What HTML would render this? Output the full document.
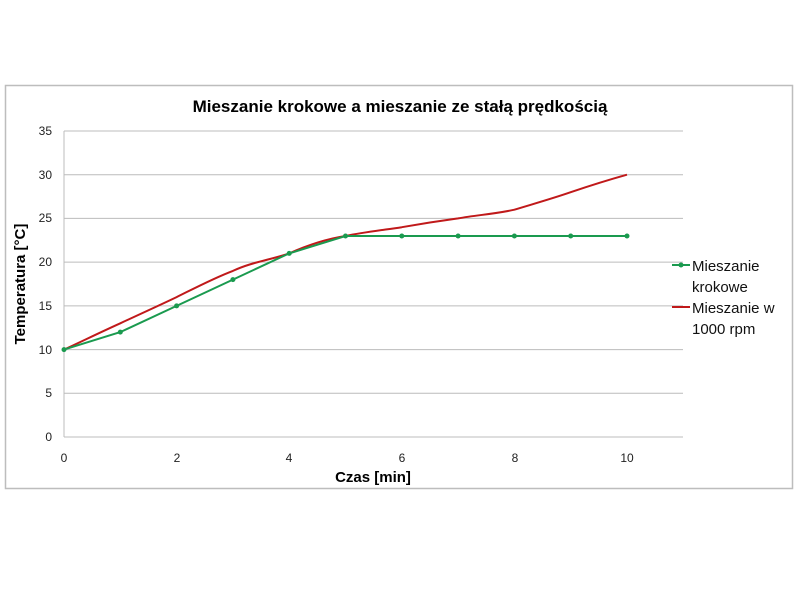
<!DOCTYPE html>
<html><head><meta charset="utf-8"><style>
body{margin:0;background:#fff;}
svg{display:block;font-family:"Liberation Sans",sans-serif;}
</style></head><body>
<svg width="800" height="600" viewBox="0 0 800 600">
<rect x="5.5" y="85.5" width="787" height="403" fill="#fff" stroke="#bdbdbd" stroke-width="1.5"/>
<text x="400" y="112" text-anchor="middle" font-size="17" font-weight="bold">Mieszanie krokowe a mieszanie ze stałą prędkością</text>
<g stroke="#bcbcbc" stroke-width="1">
<line x1="64" y1="131" x2="683" y2="131"/>
<line x1="64" y1="174.7" x2="683" y2="174.7"/>
<line x1="64" y1="218.4" x2="683" y2="218.4"/>
<line x1="64" y1="262.1" x2="683" y2="262.1"/>
<line x1="64" y1="305.9" x2="683" y2="305.9"/>
<line x1="64" y1="349.6" x2="683" y2="349.6"/>
<line x1="64" y1="393.3" x2="683" y2="393.3"/>
<line x1="64" y1="437" x2="683" y2="437"/>
<line x1="64" y1="131" x2="64" y2="437"/>
</g>
<g font-size="12" text-anchor="end" fill="#222">
<text x="52" y="135">35</text><text x="52" y="179">30</text><text x="52" y="222">25</text>
<text x="52" y="266">20</text><text x="52" y="310">15</text><text x="52" y="354">10</text>
<text x="52" y="397">5</text><text x="52" y="441">0</text>
</g>
<g font-size="12" text-anchor="middle" fill="#222">
<text x="64" y="462">0</text><text x="177" y="462">2</text><text x="289" y="462">4</text>
<text x="402" y="462">6</text><text x="515" y="462">8</text><text x="627" y="462">10</text>
</g>
<text x="373" y="482" text-anchor="middle" font-size="15" font-weight="bold">Czas [min]</text>
<text transform="translate(25,284) rotate(-90)" text-anchor="middle" font-size="15" font-weight="bold">Temperatura [°C]</text>
<path d="M64,349.6 C83,340.8 101,332 120.3,323.3 C139,314.5 158,306 176.6,297.1 C195,288 214,278 232.9,270.9 C252,262 270,260 289.2,253.4 C308,245 326,239 345.5,236 C364,232 383,230 401.8,227.2 C420,224 439,221 458.1,218.4 C477,215 495,214 514.4,209.7 C533,204 551,199 570.7,192.2 C589,186 608,180 627,174.7" fill="none" stroke="#c0191a" stroke-width="2"/>
<polyline points="64,349.6 120.3,332.1 176.6,305.9 232.9,279.6 289.2,253.4 345.5,236 401.8,236 458.1,236 514.4,236 570.7,236 627,236" fill="none" stroke="#1a9a4f" stroke-width="2"/>
<g fill="#1a9a4f">
<circle cx="64" cy="349.6" r="2.5"/><circle cx="120.3" cy="332.1" r="2.5"/><circle cx="176.6" cy="305.9" r="2.5"/><circle cx="232.9" cy="279.6" r="2.5"/><circle cx="289.2" cy="253.4" r="2.5"/><circle cx="345.5" cy="236" r="2.5"/><circle cx="401.8" cy="236" r="2.5"/><circle cx="458.1" cy="236" r="2.5"/><circle cx="514.4" cy="236" r="2.5"/><circle cx="570.7" cy="236" r="2.5"/><circle cx="627" cy="236" r="2.5"/>
</g>
<line x1="672" y1="265" x2="690" y2="265" stroke="#1a9a4f" stroke-width="2"/><circle cx="681" cy="265" r="2.5" fill="#1a9a4f"/>
<line x1="672" y1="307" x2="690" y2="307" stroke="#c0191a" stroke-width="2"/>
<g font-size="15" fill="#111">
<text x="692" y="271">Mieszanie</text><text x="692" y="292">krokowe</text>
<text x="692" y="313">Mieszanie w</text><text x="692" y="334">1000 rpm</text>
</g>
</svg>
</body></html>
